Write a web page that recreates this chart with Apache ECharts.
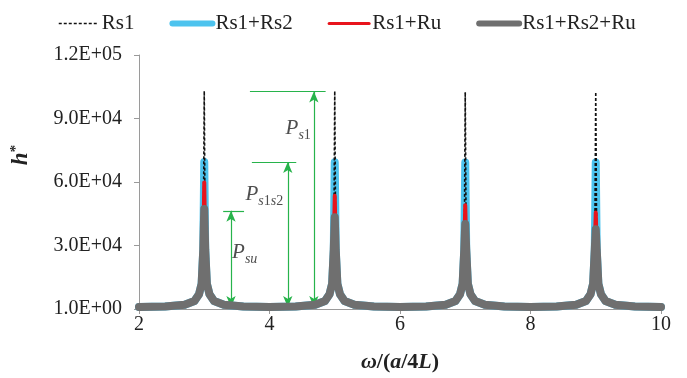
<!DOCTYPE html>
<html>
<head>
<meta charset="utf-8">
<script src="https://cdn.jsdelivr.net/npm/echarts@6/dist/echarts.min.js"></script>
<style>html,body{margin:0;padding:0;background:#fff}#c{width:687px;height:378px}</style>
</head>
<body>
<div id="c"></div>
<script>
// x positions (omega/(a/4L))
const xs = [2, 2.4, 2.7, 2.85, 2.92, 2.96, 2.985, 3, 3.015, 3.04, 3.08, 3.15, 3.3, 3.6,
  4, 4.4, 4.7, 4.85, 4.92, 4.96, 4.985, 5, 5.015, 5.04, 5.08, 5.15, 5.3, 5.6,
  6, 6.4, 6.7, 6.85, 6.92, 6.96, 6.985, 7, 7.015, 7.04, 7.08, 7.15, 7.3, 7.6,
  8, 8.4, 8.7, 8.85, 8.92, 8.96, 8.985, 9, 9.015, 9.04, 9.08, 9.15, 9.3, 9.6, 10];
const rs1 = [1000, 1200, 2000, 3700, 6800, 11500, 27000, 103000, 27000, 11500, 6800, 3700, 2000, 1200,
  1000, 1200, 2000, 3700, 6800, 11500, 27000, 103000, 27000, 11500, 6800, 3700, 2000, 1200,
  1000, 1200, 2000, 3700, 6800, 11500, 27000, 102500, 27000, 11500, 6800, 3700, 2000, 1200,
  1000, 1200, 2000, 3700, 6800, 11500, 27000, 102500, 27000, 11500, 6800, 3700, 2000, 1200, 1000];
const rs1rs2 = [1000, 1200, 2000, 3800, 7000, 12000, 28000, 69500, 28000, 12000, 7000, 3800, 2000, 1200,
  1000, 1200, 2000, 3800, 7000, 12000, 28000, 69300, 28000, 12000, 7000, 3800, 2000, 1200,
  1000, 1200, 2000, 3800, 7000, 12000, 28000, 69200, 28000, 12000, 7000, 3800, 2000, 1200,
  1000, 1200, 2000, 3800, 7000, 12000, 28000, 69200, 28000, 12000, 7000, 3800, 2000, 1200, 1000];
const rs1ru = [1000, 1200, 2000, 3800, 7000, 12000, 28000, 59800, 28000, 12000, 7000, 3800, 2000, 1200,
  1000, 1200, 2000, 3800, 7000, 12000, 28000, 53500, 28000, 12000, 7000, 3800, 2000, 1200,
  1000, 1200, 2000, 3800, 7000, 12000, 28000, 49000, 28000, 12000, 7000, 3800, 2000, 1200,
  1000, 1200, 2000, 3800, 7000, 12000, 28000, 45600, 28000, 12000, 7000, 3800, 2000, 1200, 1000];
const rs1rs2ru = [1000, 1200, 2000, 3800, 7000, 12000, 28000, 47200, 28000, 12000, 7000, 3800, 2000, 1200,
  1000, 1200, 2000, 3800, 7000, 12000, 28000, 43300, 28000, 12000, 7000, 3800, 2000, 1200,
  1000, 1200, 2000, 3800, 7000, 12000, 28000, 40100, 28000, 12000, 7000, 3800, 2000, 1200,
  1000, 1200, 2000, 3800, 7000, 12000, 28000, 37700, 28000, 12000, 7000, 3800, 2000, 1200, 1000];
const seriesNames = ['Rs1', 'Rs1+Rs2', 'Rs1+Ru', 'Rs1+Rs2+Ru'];
// annotation arrows: [x, yFrom, yTo]
const arrows = [[3.41, 900, 46400], [4.28, 900, 69400], [4.68, 900, 102800]];
// annotation horizontal reference lines: [xFrom, xTo, y]
const refLines = [[3.29, 3.61, 46400], [3.73, 4.41, 69400], [3.70, 4.86, 102800]];

const serif = "'Liberation Serif', 'Times New Roman', Tinos, 'DejaVu Serif', serif";
const green = '#27b34b';
function pairs(ys) { return xs.map((x, i) => [x, ys[i]]); }
function fmt(v) {
  if (v === 0) return '1.0E+00';
  const e = Math.floor(Math.log10(v));
  const m = v / Math.pow(10, e);
  return m.toFixed(1) + 'E+' + String(e).padStart(2, '0');
}
const subRich = {
  p: { fontFamily: serif, fontStyle: 'italic', fontSize: 21, color: '#222', lineHeight: 24, verticalAlign: 'top' },
  si: { fontFamily: serif, fontStyle: 'italic', fontSize: 14, color: '#222', lineHeight: 14, verticalAlign: 'bottom', padding: [12, 0, 0, 0] },
  sn: { fontFamily: serif, fontSize: 14, color: '#222', lineHeight: 14, verticalAlign: 'bottom', padding: [12, 0, 0, 0] }
};

const chart = echarts.init(document.getElementById('c'), null, { renderer: 'canvas' });
const lineCommon = { type: 'line', symbol: 'none', smooth: false, animation: false };
chart.setOption({
  animation: false,
  backgroundColor: '#fff',
  textStyle: { fontFamily: serif },
  grid: { left: 139, right: 26, top: 55, bottom: 65 },
  legend: {
    top: 8, left: 53, itemWidth: 40, itemHeight: 12, itemGap: 35,
    itemStyle: { opacity: 0 },
    textStyle: { fontFamily: serif, fontSize: 21, color: '#222', padding: [0, 0, 0, -2] },
    data: [
      { name: 'Rs1', lineStyle: { color: '#111', width: 1.5, type: [3, 2] } },
      { name: 'Rs1+Rs2', lineStyle: { color: '#4dc3ee', width: 6, cap: 'round' } },
      { name: 'Rs1+Ru', lineStyle: { color: '#e8141c', width: 3, cap: 'round' } },
      { name: 'Rs1+Rs2+Ru', lineStyle: { color: '#6f6f6f', width: 6, cap: 'round' } }
    ]
  },
  xAxis: {
    type: 'value', min: 2, max: 10, interval: 2,
    axisLine: { lineStyle: { color: '#9a9a9a' } },
    axisTick: { show: true, length: 5, lineStyle: { color: '#9a9a9a' } },
    splitLine: { show: false },
    axisLabel: { fontFamily: serif, fontSize: 20, color: '#222', margin: 6 },
    name: '{bi|ω}{b|/(}{bi|a}{b|/4}{bi|L}{b|)}',
    nameLocation: 'middle', nameGap: 42,
    nameTextStyle: {
      rich: {
        bi: { fontFamily: serif, fontStyle: 'italic', fontWeight: 'bold', fontSize: 22, color: '#222' },
        b: { fontFamily: serif, fontWeight: 'bold', fontSize: 22, color: '#222' }
      }
    }
  },
  yAxis: {
    type: 'value', min: 0, max: 120000, interval: 30000,
    axisLine: { show: true, lineStyle: { color: '#9a9a9a' } },
    axisTick: { show: true, length: 5, lineStyle: { color: '#9a9a9a' } },
    splitLine: { show: false },
    axisLabel: { fontFamily: serif, fontSize: 20, color: '#222', margin: 17, formatter: fmt },
    name: '{bi|h}{sup|*}',
    nameLocation: 'middle', nameGap: 106, nameRotate: 90,
    nameTextStyle: {
      padding: [0, 0, 0, 54],
      rich: {
        bi: { fontFamily: serif, fontStyle: 'italic', fontWeight: 'bold', fontSize: 23, color: '#222', lineHeight: 24, verticalAlign: 'bottom' },
        sup: { fontFamily: serif, fontWeight: 'bold', fontSize: 15, color: '#222', lineHeight: 15, verticalAlign: 'top', padding: [0, 0, 10, 0] }
      }
    }
  },
  series: [
    Object.assign({}, lineCommon, { name: 'Rs1', z: 3, data: pairs(rs1), color: '#111',
      lineStyle: { color: '#111', width: 1.6, type: [3, 2] } }),
    Object.assign({}, lineCommon, { name: 'Rs1+Rs2', z: 2, data: pairs(rs1rs2), color: '#4dc3ee',
      lineStyle: { color: '#4dc3ee', width: 8, cap: 'round', join: 'round' } }),
    Object.assign({}, lineCommon, { name: 'Rs1+Ru', z: 4, data: pairs(rs1ru), color: '#e8141c',
      lineStyle: { color: '#e8141c', width: 4, cap: 'round', join: 'round' } }),
    Object.assign({}, lineCommon, { name: 'Rs1+Rs2+Ru', z: 5, data: pairs(rs1rs2ru), color: '#6f6f6f',
      lineStyle: { color: '#6f6f6f', width: 8, cap: 'round', join: 'round' } }),
    {
      type: 'line', name: 'arrows', data: [], z: 6, silent: true,
      markLine: {
        silent: true, animation: false, symbol: ['arrow', 'arrow'], symbolSize: [7, 11],
        label: { show: false },
        lineStyle: { color: green, width: 1.2, type: 'solid' },
        data: arrows.map(a => [{ coord: [a[0], a[1]] }, { coord: [a[0], a[2]] }])
      }
    },
    {
      type: 'line', name: 'refs', data: [], z: 6, silent: true,
      markLine: {
        silent: true, animation: false, symbol: ['none', 'none'],
        label: { show: false },
        lineStyle: { color: green, width: 1.2, type: 'solid' },
        data: refLines.map(r => [{ coord: [r[0], r[2]] }, { coord: [r[1], r[2]] }])
      }
    },
    {
      type: 'scatter', name: 'labels', symbolSize: 0, z: 7, silent: true,
      label: { show: true, position: 'inside', rich: subRich },
      data: [
        { value: [4.44, 84500], label: { formatter: '{p|P}{si|s}{sn|1}' } },
        { value: [3.92, 53300], label: { formatter: '{p|P}{si|s}{sn|1}{si|s}{sn|2}' } },
        { value: [3.62, 25800], label: { formatter: '{p|P}{si|su}' } }
      ]
    }
  ]
});
</script>
</body>
</html>
